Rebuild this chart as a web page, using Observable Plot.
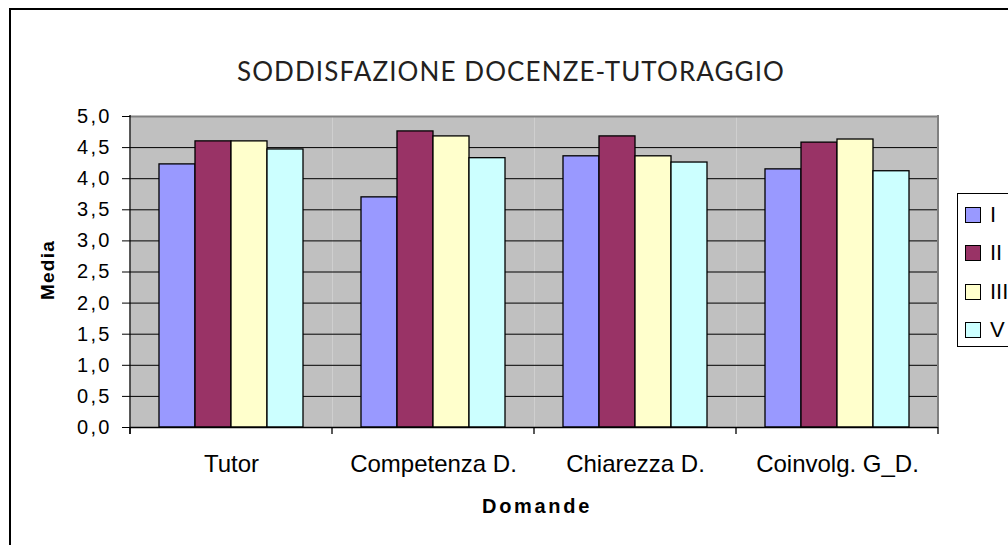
<!DOCTYPE html>
<html>
<head>
<meta charset="utf-8">
<script src="https://cdn.jsdelivr.net/npm/d3@7"></script>
<script src="https://cdn.jsdelivr.net/npm/@observablehq/plot@0.6"></script>
<style>
  html, body { margin: 0; padding: 0; background: #fff; }
  #wrap { position: relative; width: 1008px; height: 545px; overflow: hidden; background: #fff; font-family: "Liberation Sans", Arial, sans-serif; }
  #border { position: absolute; left: 9px; top: 8px; width: 1200px; height: 700px; border-left: 2px solid #000; border-top: 2px solid #000; }
  #chart { position: absolute; left: 0; top: 0; }
  #title { position: absolute; left: 0; width: 1022px; top: 55px; text-align: center; font-family: Lato, "Open Sans", sans-serif; font-size: 26px; letter-spacing: 1.1px; color: #231f20; white-space: nowrap; }
  #xlabel { position: absolute; left: 437px; width: 200px; top: 495px; text-align: center; font-weight: bold; font-size: 20px; letter-spacing: 2.7px; color: #000; }
  #ylabel { position: absolute; left: 48px; top: 270px; transform: translate(-50%, -50%) rotate(-90deg); font-weight: bold; font-size: 19px; letter-spacing: 1.2px; color: #000; white-space: nowrap; }
  #legend { position: absolute; left: 957px; top: 193px; width: 90px; height: 152px; border: 1px solid #000; background: #fff; }
  .item { position: absolute; left: 7px; height: 16px; }
  .sw { position: absolute; left: 0; top: 0; width: 14px; height: 14px; border: 1px solid #000; }
  .lab { position: absolute; left: 25px; top: -4px; font-size: 22px; line-height: 24px; color: #000; white-space: nowrap; }
</style>
</head>
<body>
<div id="wrap">
  <div id="border"></div>
  <div id="chart"></div>
  <div id="title"></div>
  <div id="xlabel"></div>
  <div id="ylabel"></div>
  <div id="legend"></div>
</div>
<script>
// ---- data ----
const titleText = "SODDISFAZIONE DOCENZE-TUTORAGGIO";
const xTitle = "Domande";
const yTitle = "Media";
const categories = ["Tutor", "Competenza D.", "Chiarezza D.", "Coinvolg. G_D."];
const series = ["I", "II", "III", "V"];
const valuesI   = [4.23, 3.70, 4.36, 4.15];
const valuesII  = [4.60, 4.76, 4.68, 4.58];
const valuesIII = [4.60, 4.68, 4.36, 4.63];
const valuesV   = [4.47, 4.33, 4.26, 4.12];
const colors = ["#9999FF", "#993366", "#FFFFCC", "#CCFFFF"];
const yTicks = [0, 0.5, 1, 1.5, 2, 2.5, 3, 3.5, 4, 4.5, 5];

const seriesValues = [valuesI, valuesII, valuesIII, valuesV];
const data = [];
categories.forEach((c, i) => {
  series.forEach((s, j) => data.push({cat: c, serie: s, value: seriesValues[j][i]}));
});

const W = 1008, H = 545;
const chart = Plot.plot({
  width: W,
  height: H,
  marginLeft: 129,
  marginRight: 69,
  marginTop: 116,
  marginBottom: 118,
  style: {fontFamily: "'Liberation Sans', Arial, sans-serif", fontSize: "20px", background: "transparent", color: "#000"},
  fx: {domain: categories, paddingInner: 0, paddingOuter: 0, label: null},
  x: {domain: series, paddingInner: 0, paddingOuter: 0.74, axis: null},
  y: {domain: [0, 5], label: null},
  color: {domain: series, range: colors},
  marks: [
    Plot.frame({fill: "#C0C0C0", stroke: "none"}),
    Plot.gridY(yTicks, {stroke: "#000", strokeOpacity: 1, strokeWidth: 1}),
    Plot.ruleY([5], {stroke: "#808080", strokeWidth: 2}),
    Plot.barY(data, {fx: "cat", x: "serie", y: "value", fill: "serie", stroke: "#000", strokeWidth: 1.3}),
    Plot.ruleY([0], {stroke: "#000", strokeWidth: 1.3}),
    Plot.axisY(yTicks, {tickSize: 8, tickPadding: 11, fontSize: 20, stroke: "#000", fill: "#000",
      tickFormat: d => d.toFixed(1).replace(".", ","), label: null}),
    Plot.axisFx({anchor: "bottom", tickSize: 0, tickPadding: 27, fontSize: 24, fill: "#000", label: null})
  ]
});
document.getElementById("chart").appendChild(chart);

// Excel-style axis lines and ticks at band boundaries from Plot's own scales
const fx = chart.scale("fx"), y = chart.scale("y");
const svg = d3.select(chart);
const y0 = y.apply(0), y5 = y.apply(5);
const bounds = categories.map(c => fx.apply(c)).concat([fx.apply(categories[categories.length - 1]) + fx.bandwidth]);
const g = svg.append("g");
g.append("line").attr("x1", bounds[bounds.length - 1]).attr("x2", bounds[bounds.length - 1])
  .attr("y1", y5 - 1).attr("y2", y0).attr("stroke", "#808080").attr("stroke-width", 2);
g.append("line").attr("x1", bounds[0]).attr("x2", bounds[0])
  .attr("y1", y5 - 1).attr("y2", y0 + 7).attr("stroke", "#000").attr("stroke-width", 1.3);
bounds.forEach(b => g.append("line").attr("x1", b).attr("x2", b).attr("y1", y0).attr("y2", y0 + 7)
  .attr("stroke", "#000").attr("stroke-width", 1.3));
svg.selectAll('g[aria-label="y-axis tick label"] text').attr("letter-spacing", 2.2);

document.getElementById("title").textContent = titleText;
document.getElementById("xlabel").textContent = xTitle;
document.getElementById("ylabel").textContent = yTitle;

const legend = document.getElementById("legend");
series.forEach((s, i) => {
  const it = document.createElement("div");
  it.className = "item";
  it.style.top = (13 + i * 38.3) + "px";
  const sw = document.createElement("div");
  sw.className = "sw";
  sw.style.background = colors[i];
  const lab = document.createElement("div");
  lab.className = "lab";
  lab.textContent = s;
  it.appendChild(sw); it.appendChild(lab);
  legend.appendChild(it);
});
</script>
</body>
</html>
